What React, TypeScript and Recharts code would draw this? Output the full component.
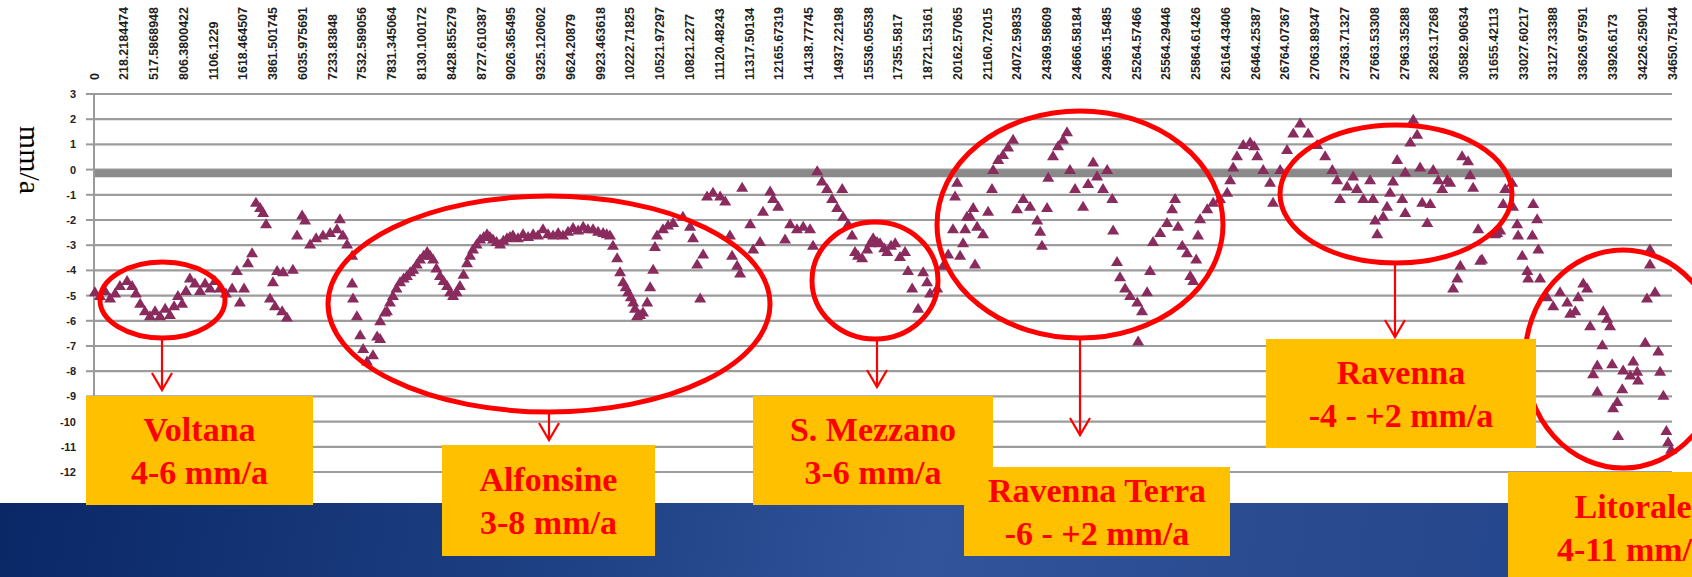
import React from 'react'
import { ScatterChart, Scatter, XAxis, YAxis, CartesianGrid, ReferenceArea } from 'recharts'

// distance labels shown along the top axis (every tick of the category axis)
const xLabels = [
  '0', '218.2184474', '517.5868948', '806.3800422', '1106.1229', '1618.464507', '3861.501745',
  '6035.975691', '7233.83848', '7532.589056', '7831.345064', '8130.100172', '8428.855279',
  '8727.610387', '9026.365495', '9325.120602', '9624.20879', '9923.463618', '10222.71825',
  '10521.97297', '10821.2277', '11120.48243', '11317.50134', '12165.67319', '14138.77745',
  '14937.22198', '15536.05538', '17355.5817', '18721.53161', '20162.57065', '21160.72015',
  '24072.59835', '24369.58609', '24666.58184', '24965.15485', '25264.57466', '25564.29446',
  '25864.61426', '26164.43406', '26464.25387', '26764.07367', '27063.89347', '27363.71327',
  '27663.53308', '27963.35288', '28263.17268', '30582.90634', '31655.42113', '33027.60217',
  '33127.33388', '33626.97591', '33926.6173', '34226.25901', '34650.75144',
]
const xTicks = xLabels.map((_, i) => i)
const yTicks = [3, 2, 1, 0, -1, -2, -3, -4, -5, -6, -7, -8, -9, -10, -11, -12]

// velocities (mm/a) read along the profile, x in tick-label units
const voltana: [number, number][] = [
  [0.03, -4.85], [0.2, -5.0], [0.37, -4.8], [0.54, -5.1], [0.71, -4.9], [0.87, -4.6], [1.11, -4.4],
  [1.28, -4.6], [1.41, -4.9], [1.55, -5.3], [1.71, -5.6], [1.88, -5.8], [2.05, -5.6], [2.22, -5.8],
  [2.39, -5.5], [2.55, -5.75], [2.69, -5.4], [2.82, -5.0], [2.96, -5.3], [3.09, -4.8], [3.22, -4.3],
  [3.39, -4.5], [3.56, -4.8], [3.73, -4.5], [3.9, -4.7], [4.06, -4.4], [4.23, -4.7], [4.43, -4.9],
  [4.64, -4.7], [4.8, -4.0], [4.9, -5.25], [5.04, -4.7], [5.17, -3.7], [5.31, -3.3],
]
const westPeaks: [number, number][] = [
  [5.44, -1.3], [5.58, -1.5], [5.68, -1.7], [5.78, -2.15], [5.91, -5.1], [6.01, -4.45], [6.08, -5.4],
  [6.15, -4.0], [6.32, -5.6], [6.35, -4.05], [6.48, -5.85], [6.68, -3.95], [6.82, -2.6], [6.99, -1.8],
  [7.09, -2.0], [7.26, -2.95], [7.46, -2.7], [7.69, -2.6], [7.93, -2.5], [8.16, -2.35], [8.26, -1.95],
  [8.36, -2.6], [8.5, -2.95],
]
const alfonsine: [number, number][] = [
  [8.67, -3.4], [8.67, -4.5], [8.7, -5.1], [8.83, -5.8], [8.94, -6.55], [9.04, -7.1], [9.17, -7.6],
  [9.37, -7.35], [9.51, -6.6], [9.61, -6.0], [9.61, -6.7], [9.77, -5.65], [9.84, -5.6], [9.94, -5.25],
  [10.04, -5.0], [10.16, -4.7], [10.28, -4.45], [10.4, -4.3], [10.51, -4.2], [10.62, -4.05], [10.72, -3.95],
  [10.84, -3.75], [10.95, -3.55], [11.07, -3.4], [11.19, -3.25], [11.29, -3.4], [11.39, -3.55],
  [11.5, -3.9], [11.62, -4.2], [11.74, -4.4], [11.86, -4.6], [11.96, -4.85], [12.06, -5.0], [12.18, -4.85],
  [12.29, -4.6], [12.41, -4.15], [12.53, -3.7], [12.63, -3.4], [12.73, -3.15], [12.85, -2.95],
  [12.97, -2.75], [13.09, -2.65], [13.2, -2.55], [13.3, -2.65], [13.4, -2.75], [13.52, -2.85], [13.64, -2.95],
  [13.75, -2.8], [13.87, -2.7], [13.97, -2.65],
  [14.07, -2.6], [14.24, -2.7], [14.41, -2.55], [14.58, -2.65], [14.75, -2.55], [14.91, -2.6],
  [15.08, -2.35], [15.25, -2.55], [15.42, -2.6], [15.59, -2.5], [15.75, -2.6], [15.92, -2.45],
  [16.09, -2.3], [16.26, -2.4], [16.43, -2.25], [16.59, -2.35], [16.76, -2.35], [16.93, -2.45],
  [17.1, -2.5], [17.22, -2.55], [17.33, -2.6], [17.43, -3.0], [17.57, -3.5], [17.67, -4.05], [17.77, -4.45],
  [17.86, -4.65], [17.94, -4.85], [18.03, -5.05], [18.11, -5.25], [18.17, -5.5], [18.24, -5.8], [18.34, -5.75],
  [18.44, -5.65], [18.58, -5.25], [18.68, -4.65],
  [18.78, -3.95], [18.84, -3.05], [18.91, -2.6], [19.11, -2.35], [19.28, -2.2], [19.45, -2.1],
]
const middle: [number, number][] = [
  [19.78, -1.85], [20.02, -2.25], [20.12, -2.7], [20.26, -3.75], [20.36, -5.1], [20.46, -3.35],
  [20.59, -1.05], [20.79, -0.9], [21.03, -1.05], [21.2, -1.25], [21.36, -2.6], [21.43, -3.4],
  [21.6, -3.8], [21.7, -4.1], [21.77, -0.7], [22.04, -2.15], [22.14, -3.15], [22.37, -2.85],
  [22.47, -1.65], [22.71, -0.85], [22.81, -1.15], [22.98, -1.45], [23.21, -2.75], [23.38, -2.15],
  [23.61, -2.35], [23.82, -2.25], [24.05, -2.35], [24.15, -3.0], [24.29, -0.05], [24.45, -0.45],
  [24.62, -0.75], [24.79, -1.15], [24.96, -1.5], [25.13, -0.75], [25.16, -1.85], [25.33, -2.15],
]
const sMezzano: [number, number][] = [
  [25.46, -2.6], [25.56, -3.25], [25.66, -3.4], [25.8, -3.5], [25.97, -3.15], [26.07, -2.9],
  [26.17, -2.7], [26.3, -2.85], [26.4, -2.9], [26.54, -3.1], [26.64, -3.25], [26.77, -3.0],
  [26.91, -2.9], [27.07, -3.45], [27.24, -3.25], [27.34, -4.0], [27.48, -4.7], [27.68, -5.5],
  [27.85, -4.05], [27.98, -4.45], [28.08, -4.9], [28.32, -4.7], [28.52, -3.8], [28.69, -3.35],
]
const ravennaTerra: [number, number][] = [
  [28.85, -2.35], [28.92, -1.05], [28.99, -0.5], [29.09, -3.4], [29.19, -2.9], [29.26, -2.35],
  [29.32, -1.85], [29.43, -1.85], [29.53, -1.5], [29.59, -3.75], [29.66, -2.25], [29.86, -2.55],
  [30.03, -1.65], [30.16, -0.75], [30.2, 0.0], [30.37, 0.4], [30.53, 0.6], [30.7, 0.9], [30.87, 1.2],
  [31.0, -1.55], [31.21, -1.15], [31.44, -1.45], [31.68, -2.0], [31.78, -2.45], [31.84, -3.0],
  [32.01, -1.5], [32.05, -0.3], [32.21, 0.55], [32.38, 0.95], [32.55, 1.2], [32.68, 1.5], [32.78, 0.0],
  [32.95, -0.75], [33.22, -1.45], [33.39, -0.55], [33.56, 0.3], [33.69, -0.25], [33.89, -0.75],
  [34.03, 0.0], [34.2, -1.15], [34.23, -2.4], [34.36, -3.65], [34.46, -4.25], [34.63, -4.7],
  [34.8, -5.0], [35.04, -5.25], [35.07, -6.8], [35.2, -5.6], [35.37, -4.85], [35.47, -4.0],
  [35.57, -2.85], [35.81, -2.5], [36.04, -2.1], [36.21, -1.55], [36.31, -1.15], [36.41, -2.25],
  [36.55, -3.0], [36.71, -3.3], [36.82, -4.2], [36.92, -4.4], [37.02, -3.55], [37.08, -2.6],
  [37.15, -1.95], [37.39, -1.55], [37.59, -1.3],
]
const eastPeaks: [number, number][] = [
  [37.82, -1.15], [38.06, -0.9], [38.16, -0.4], [38.26, 0.1], [38.39, 0.55], [38.6, 1.0], [38.83, 1.1],
  [38.97, 0.95], [39.07, 0.55], [39.27, 0.0], [39.5, -0.5], [39.6, -1.3], [39.84, 0.0], [40.07, 0.8],
  [40.28, 1.45], [40.51, 1.85], [40.78, 1.45], [41.08, 1.0], [41.35, 0.55], [41.59, 0.0],
]
const ravenna: [number, number][] = [
  [41.75, -0.4], [41.85, -1.15], [42.09, -0.65], [42.29, -0.25], [42.42, -0.75], [42.63, -1.15],
  [42.86, -0.4], [42.96, -1.15], [43.03, -2.0], [43.1, -2.55], [43.3, -1.85], [43.43, -1.45],
  [43.53, -0.9], [43.63, -0.45], [43.77, 0.4], [43.94, -1.15], [44.04, -0.1], [44.04, -1.7],
  [44.21, 1.1], [44.31, 2.0], [44.44, 1.4], [44.54, 0.1], [44.61, -1.3], [44.78, -2.1], [44.88, -1.35],
  [44.98, 0.0], [45.15, -0.4], [45.28, -0.75], [45.45, -0.4], [45.55, -0.5], [45.65, -4.7],
  [45.79, -4.3], [45.89, -3.8], [45.95, 0.55], [46.15, 0.35], [46.22, -0.2], [46.32, -0.7],
  [46.49, -2.35], [46.56, -3.6], [46.62, -3.55], [47.06, -2.55], [47.13, -2.5], [47.23, -2.4],
  [47.33, -1.35], [47.4, -0.75], [47.63, -0.5], [47.66, -1.45], [47.8, -2.15], [47.83, -2.6],
  [47.97, -3.4], [48.14, -4.0], [48.17, -4.3], [48.31, -2.6], [48.34, -1.35], [48.47, -1.95],
  [48.51, -3.15], [48.57, -4.3],
]
const litorale: [number, number][] = [
  [48.81, -5.05], [49.01, -5.4], [49.24, -4.85], [49.48, -5.25], [49.58, -5.7], [49.75, -5.6],
  [49.85, -5.05], [50.02, -4.5], [50.15, -4.7], [50.25, -6.2], [50.35, -8.1], [50.49, -7.75],
  [50.49, -8.8], [50.66, -6.95], [50.69, -5.6], [50.82, -5.9], [50.92, -6.2], [50.99, -7.7],
  [51.02, -9.45], [51.16, -9.2], [51.19, -10.55], [51.33, -8.7], [51.36, -7.95], [51.6, -8.15],
  [51.7, -7.6], [51.83, -8.0], [51.86, -8.35], [52.1, -6.85], [52.16, -5.1], [52.26, -3.15],
  [52.26, -3.75], [52.43, -4.85], [52.54, -7.2], [52.6, -8.0], [52.71, -8.95], [52.81, -10.35],
  [52.87, -10.8], [52.97, -11.1],
]

const points = [voltana, westPeaks, alfonsine, middle, sMezzano, ravennaTerra, eastPeaks, ravenna, litorale]
  .flat()
  .map(([x, y]) => ({ x, y }))

const Triangle = (props: any) => {
  const { cx, cy } = props
  return <path d={`M${cx},${cy - 5.5} L${cx + 6},${cy + 4.5} L${cx - 6},${cy + 4.5} Z`} fill="#8a2b5e" />
}

const XTick = (props: any) => {
  const { x, payload } = props
  return (
    <text
      transform={`translate(${x + 4.5},80) rotate(-90)`}
      fontSize={12.5}
      fontWeight={700}
      fontFamily="'Liberation Sans', Arial, sans-serif"
      fill="#1e1e1e"
      textAnchor="start"
    >
      {xLabels[payload.value]}
    </text>
  )
}

const boxes = [
  { left: 86, top: 396, w: 227, h: 109, lines: ['Voltana', '4-6 mm/a'] },
  { left: 442, top: 445, w: 213, h: 111, lines: ['Alfonsine', '3-8 mm/a'] },
  { left: 753, top: 396, w: 240, h: 109, lines: ['S. Mezzano', '3-6 mm/a'] },
  { left: 964, top: 467, w: 266, h: 89, lines: ['Ravenna Terra', '-6 - +2 mm/a'] },
  { left: 1266, top: 339, w: 270, h: 109, lines: ['Ravenna', '-4 - +2 mm/a'] },
  { left: 1508, top: 472, w: 250, h: 112, lines: ['Litorale', '4-11 mm/a'] },
]

const ellipses = [
  [162.5, 300, 62.5, 38], [549, 304, 221, 108], [875, 280.5, 63, 58.5],
  [1080, 224.5, 143, 113.5], [1396, 194, 116, 69], [1623, 359, 98, 109],
]
const arrows = [
  [162, 338, 390], [549, 412, 440], [877, 339, 387], [1080, 338, 435], [1395, 263, 337],
]

export default function App() {
  return (
    <div style={{ position: 'relative', width: 1692, height: 577, overflow: 'hidden', background: '#fff' }}>
      <style>{'body{margin:0}'}</style>
      <ScatterChart width={1692} height={577} margin={{ top: 0, right: 20, bottom: 105, left: 0 }}>
        <CartesianGrid vertical={false} stroke="#9c9c9c" strokeWidth={2.2} />
        <ReferenceArea y1={-0.3} y2={0} fill="#8a8a8a" fillOpacity={1} stroke="none" />
        <XAxis
          type="number"
          dataKey="x"
          domain={[0, 53]}
          ticks={xTicks}
          interval={0}
          orientation="top"
          height={94}
          axisLine={false}
          tickLine={false}
          tick={<XTick />}
        />
        <YAxis
          type="number"
          dataKey="y"
          domain={[-12, 3]}
          ticks={yTicks}
          interval={0}
          width={94}
          tickSize={8}
          tickMargin={10}
          axisLine={{ stroke: '#9a9a9a', strokeWidth: 2 }}
          tickLine={{ stroke: '#9a9a9a', strokeWidth: 2 }}
          tick={{ fontSize: 11, fontWeight: 700, fill: '#222', fontFamily: "'Liberation Sans', Arial, sans-serif" }}
        />
        <Scatter data={points} shape={Triangle} isAnimationActive={false} />
      </ScatterChart>

      <svg width={1692} height={577} style={{ position: 'absolute', left: 0, top: 0 }}>
        <text
          transform="translate(30,160) rotate(90)"
          fontSize={30}
          fontFamily="'Liberation Serif', 'Times New Roman', serif"
          textAnchor="middle"
          dominantBaseline="central"
          fill="#000"
        >
          mm/a
        </text>
        {ellipses.map(([cx, cy, rx, ry], i) => (
          <ellipse key={i} cx={cx} cy={cy} rx={rx} ry={ry} fill="none" stroke="#ff0000" strokeWidth={5} />
        ))}
        {arrows.map(([x, y1, y2], i) => (
          <g key={i} stroke="#ff0000" strokeWidth={2.2} fill="none">
            <line x1={x} y1={y1} x2={x} y2={y2} />
            <polyline points={`${x - 10},${y2 - 17} ${x},${y2} ${x + 10},${y2 - 17}`} />
          </g>
        ))}
      </svg>

      <div
        style={{
          position: 'absolute', left: 0, top: 503, width: 1692, height: 74,
          background: 'linear-gradient(100deg, #0a2766 0%, #1f4286 35%, #31549b 55%, #2a4b90 75%, #22448a 100%)',
        }}
      />

      {boxes.map((b, i) => (
        <div
          key={i}
          style={{
            position: 'absolute', left: b.left, top: b.top, width: b.w, height: b.h,
            background: '#ffc000', color: '#ff0000', display: 'flex', flexDirection: 'column',
            justifyContent: 'center', alignItems: 'center', fontFamily: "'Liberation Serif', 'Times New Roman', serif",
            fontWeight: 700, fontSize: 34, lineHeight: '43px', whiteSpace: 'nowrap',
          }}
        >
          {b.lines.map((l, j) => <div key={j}>{l}</div>)}
        </div>
      ))}
    </div>
  )
}
